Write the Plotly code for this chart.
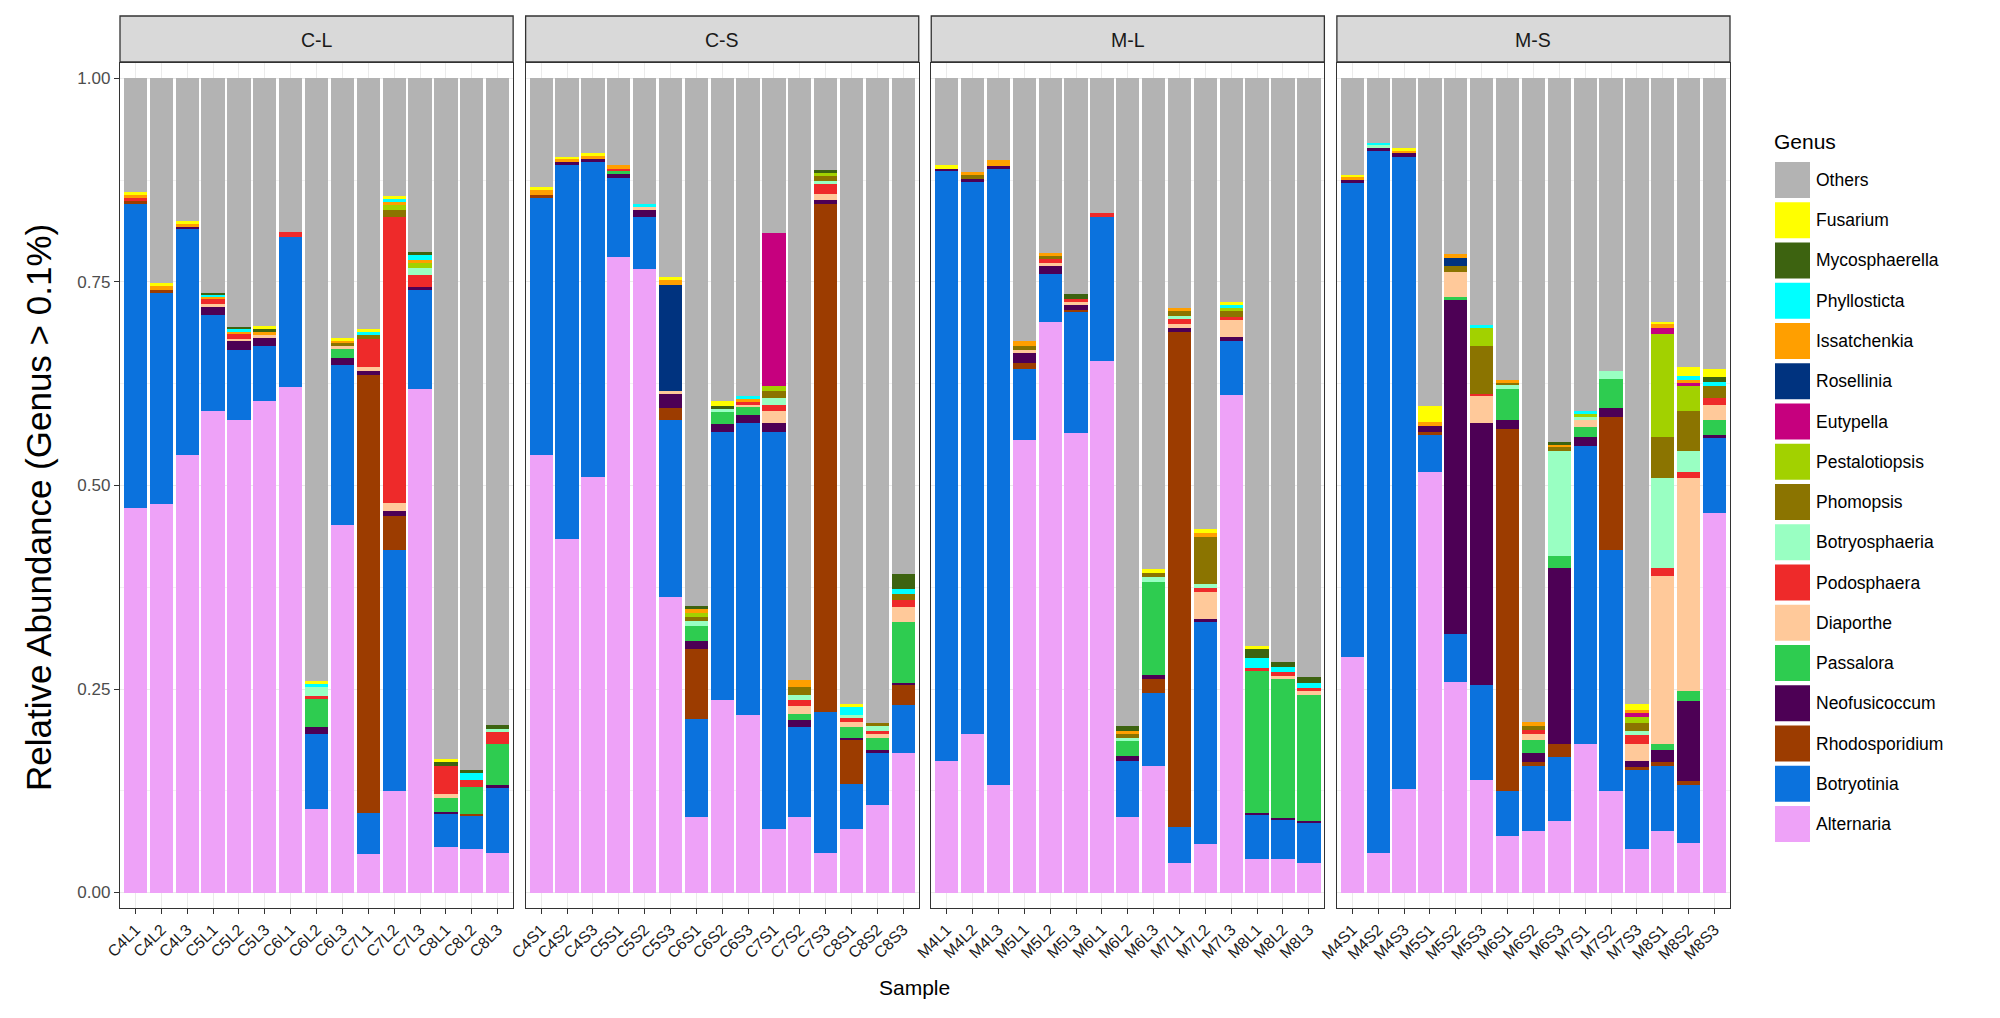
import plotly.graph_objects as go

# ---------------- data ----------------
facets = ["C-L", "C-S", "M-L", "M-S"]
samples_cl = ["C4L1", "C4L2", "C4L3", "C5L1", "C5L2", "C5L3", "C6L1", "C6L2", "C6L3", "C7L1", "C7L2", "C7L3", "C8L1", "C8L2", "C8L3"]
samples_cs = ["C4S1", "C4S2", "C4S3", "C5S1", "C5S2", "C5S3", "C6S1", "C6S2", "C6S3", "C7S1", "C7S2", "C7S3", "C8S1", "C8S2", "C8S3"]
samples_ml = ["M4L1", "M4L2", "M4L3", "M5L1", "M5L2", "M5L3", "M6L1", "M6L2", "M6L3", "M7L1", "M7L2", "M7L3", "M8L1", "M8L2", "M8L3"]
samples_ms = ["M4S1", "M4S2", "M4S3", "M5S1", "M5S2", "M5S3", "M6S1", "M6S2", "M6S3", "M7S1", "M7S2", "M7S3", "M8S1", "M8S2", "M8S3"]

# relative abundance per genus, 60 samples in order C-L, C-S, M-L, M-S
alternaria = [.472, .477, .537, .591, .581, .604, .621, .103, .452, .047, .125, .619, .056, .053, .049,
              .537, .434, .510, .781, .766, .363, .093, .236, .218, .078, .093, .049, .078, .107, .172,
              .162, .195, .132, .556, .701, .564, .653, .093, .155, .036, .060, .611, .041, .041, .036,
              .289, .048, .127, .516, .259, .138, .069, .075, .088, .182, .125, .053, .076, .061, .466]
botryotinia = [.374, .260, .278, .118, .085, .067, .184, .092, .196, .051, .296, .121, .040, .041, .079,
               .316, .460, .388, .097, .064, .218, .120, .330, .359, .488, .110, .173, .055, .065, .058,
               .724, .678, .758, .087, .059, .149, .177, .069, .090, .045, .272, .067, .054, .049, .049,
               .582, .863, .776, .046, .058, .117, .056, .080, .079, .366, .296, .097, .080, .071, .092]
rhodosporidium = [.003, .003, 0, 0, 0, 0, 0, 0, 0, .538, .041, 0, 0, .003, 0,
                  .004, 0, 0, 0, 0, .014, .086, 0, 0, 0, 0, .624, .055, 0, .025,
                  0, 0, 0, .008, 0, .003, 0, 0, .017, .608, 0, 0, 0, 0, 0,
                  0, 0, 0, .004, 0, 0, .445, .005, .016, 0, .163, .004, .004, .005, 0]
neofusicoccum = [0, 0, .003, .010, .011, .010, 0, .008, .009, .005, .007, .004, .003, 0, .004,
                 0, .003, .003, .005, .008, .017, .010, .010, .009, .011, .009, .005, .002, .003, .003,
                 .003, .004, .002, .012, .010, .006, 0, .006, .005, .004, .004, .004, .003, .002, .003,
                 .004, .004, .005, .007, .411, .322, .011, .012, .216, .011, .011, .008, .015, .098, .004]
passalora = [0, 0, 0, 0, 0, 0, 0, .035, .011, 0, 0, 0, .017, .033, .051,
             0, 0, 0, .003, 0, 0, .019, .014, .010, 0, .007, 0, .013, .015, .074,
             0, 0, 0, 0, 0, 0, 0, .018, .115, 0, 0, 0, .174, .170, .155,
             0, 0, 0, 0, .003, 0, .038, .015, .015, .013, .036, 0, .008, .012, .019]
diaporthe = [0, 0, 0, .004, .003, .004, 0, 0, .003, .005, .010, 0, .005, 0, 0,
             0, 0, 0, 0, .004, .004, 0, 0, .003, .014, .010, .007, .006, .005, .019,
             0, 0, 0, .004, .003, .004, 0, 0, 0, .005, .033, .021, 0, .004, .004,
             0, 0, 0, 0, .031, .033, 0, .008, 0, .008, 0, .020, .206, .262, .018]
podosphaera = [.004, 0, 0, .006, .006, 0, .007, .004, 0, .034, .351, .015, .035, .008, .014,
               0, 0, 0, .003, 0, 0, 0, 0, .004, .008, .008, .012, .005, .004, .008,
               0, 0, 0, 0, .005, .003, .005, 0, 0, .006, .005, .004, .004, .005, .004,
               0, 0, 0, 0, 0, .003, 0, .005, 0, 0, 0, .011, .010, .007, .008]
botryosphaeria = [0, 0, 0, 0, 0, 0, 0, .010, 0, 0, 0, .008, 0, 0, .004,
                  0, 0, 0, 0, 0, 0, .006, .004, 0, .008, .006, .004, .004, .005, 0,
                  0, 0, 0, 0, 0, 0, 0, .004, .006, .004, .005, 0, 0, 0, 0,
                  0, .003, 0, 0, 0, 0, .004, 0, .128, .004, .010, .005, .110, .026, 0]
phomopsis = [0, 0, 0, 0, 0, 0, 0, 0, .004, .005, .008, 0, 0, 0, 0,
             0, 0, 0, 0, 0, 0, .005, 0, 0, .009, .010, .006, 0, .004, .008,
             0, .004, 0, .004, .004, 0, 0, .005, .005, .006, .058, .007, 0, 0, 0,
             0, 0, 0, 0, .008, .058, .003, .005, .005, 0, 0, .010, .050, .049, .015]
pestalotiopsis = [0, 0, 0, 0, 0, 0, 0, 0, 0, 0, .006, .006, 0, 0, 0,
                  0, 0, 0, 0, 0, 0, .004, 0, 0, .006, 0, .004, 0, 0, 0,
                  0, 0, 0, 0, 0, 0, 0, 0, 0, 0, 0, .004, 0, 0, 0,
                  0, 0, 0, 0, 0, .022, 0, 0, 0, .004, 0, .008, .127, .031, 0]
eutypella = [0, 0, 0, 0, 0, 0, 0, 0, 0, 0, 0, 0, 0, 0, 0,
             0, 0, 0, 0, 0, 0, 0, 0, 0, .188, 0, 0, 0, 0, 0,
             0, 0, 0, 0, 0, 0, 0, 0, 0, 0, 0, 0, 0, 0, 0,
             0, 0, 0, 0, 0, 0, 0, 0, 0, 0, 0, .005, .008, .004, 0]
rosellinia = [0, 0, 0, 0, 0, 0, 0, 0, 0, 0, 0, 0, 0, 0, 0,
              0, 0, 0, 0, 0, .130, 0, 0, 0, 0, 0, 0, 0, 0, 0,
              0, 0, 0, 0, 0, 0, 0, 0, 0, 0, 0, 0, 0, 0, 0,
              0, 0, 0, 0, .010, 0, 0, 0, 0, 0, 0, 0, 0, 0, 0]
issatchenkia = [.004, .005, .003, .003, .003, .003, 0, 0, .003, 0, .004, .004, 0, 0, 0,
                .006, .004, .004, .005, 0, .006, .005, 0, .003, 0, .008, 0, 0, 0, 0,
                0, .004, .008, .006, .004, 0, 0, .004, 0, .004, .005, 0, 0, 0, 0,
                .004, 0, .004, .005, .004, 0, .004, .005, .003, 0, 0, .003, .004, .003, 0]
phyllosticta = [0, 0, 0, .003, .003, 0, 0, .004, 0, .003, .004, .006, 0, .009, 0,
                0, 0, 0, 0, .004, 0, 0, 0, .004, 0, 0, 0, .010, 0, .006,
                0, 0, 0, 0, 0, 0, 0, 0, 0, 0, 0, .004, .012, .006, .006,
                0, .003, 0, 0, 0, .004, 0, 0, 0, .004, 0, 0, 0, .006, .005]
mycosphaerella = [0, 0, 0, .002, .003, .004, 0, 0, 0, 0, 0, .004, .004, .003, .005,
                  0, 0, 0, 0, 0, 0, .004, .004, 0, 0, 0, .003, 0, 0, .018,
                  0, 0, 0, 0, 0, .006, 0, .005, 0, 0, 0, 0, .011, .006, .008,
                  0, 0, 0, 0, 0, 0, 0, 0, .003, 0, 0, 0, 0, 0, .006]
fusarium = [.003, .004, .004, 0, 0, .004, 0, .004, .003, .004, .004, 0, .004, 0, 0,
            .004, .003, .003, 0, 0, .004, 0, .006, 0, 0, 0, 0, .004, 0, 0,
            .005, 0, 0, 0, 0, 0, 0, 0, .004, 0, .004, .003, .004, 0, 0,
            .003, 0, .002, .020, 0, 0, 0, 0, 0, 0, 0, .007, .003, .010, .010]

genus_names = ["Alternaria", "Botryotinia", "Rhodosporidium", "Neofusicoccum", "Passalora",
               "Diaporthe", "Podosphaera", "Botryosphaeria", "Phomopsis", "Pestalotiopsis",
               "Eutypella", "Rosellinia", "Issatchenkia", "Phyllosticta", "Mycosphaerella",
               "Fusarium", "Others"]
genus_colors = ["#EEA2F8", "#0B72DD", "#9C3C00", "#4D0055", "#2ECC50",
                "#FFC99A", "#EE2A2A", "#99FFC2", "#8B7400", "#A2D100",
                "#C6007E", "#00337F", "#FF9F00", "#00FFFF", "#3D6310",
                "#FFFF00", "#B3B3B3"]

stack = [alternaria, botryotinia, rhodosporidium, neofusicoccum, passalora, diaporthe,
         podosphaera, botryosphaeria, phomopsis, pestalotiopsis, eutypella, rosellinia,
         issatchenkia, phyllosticta, mycosphaerella, fusarium]
others = [round(1 - sum(col), 4) for col in zip(*stack)]
series = stack + [others]
sample_lists = [samples_cl, samples_cs, samples_ml, samples_ms]

# ---------------- geometry (page pixels) ----------------
OFF = 8                      # browser body margin
FIG_W, FIG_H = 1984, 1002    # figure size, placed at (OFF, OFF) in the page
L, R = 120, 1730             # plot area left/right in page pixels
TOP, BOT = 63, 908           # plot area top/bottom in page pixels
GAP = 12.5
pw = (R - L - 3 * GAP) / 4
plot_w = R - L
plot_h = BOT - TOP


def px_x(px):
    return (px - L) / plot_w


def px_y(py):
    return (BOT - py) / plot_h


FONT = "Liberation Sans, Arial, sans-serif"

fig = go.Figure()
for name, color, vals in zip(genus_names, genus_colors, series):
    for fi in range(4):
        suffix = "" if fi == 0 else str(fi + 1)
        fig.add_trace(go.Bar(
            x=sample_lists[fi], y=vals[fi * 15:(fi + 1) * 15],
            name=name, marker=dict(color=color, line=dict(width=0)),
            xaxis="x" + suffix, yaxis="y" + suffix, showlegend=False,
        ))

layout = dict(
    width=FIG_W, height=FIG_H, barmode="stack", bargap=0.1,
    margin=dict(l=L - OFF, r=OFF + FIG_W - R, t=TOP - OFF, b=OFF + FIG_H - BOT, pad=0),
    paper_bgcolor="white", plot_bgcolor="white",
    font=dict(family=FONT),
    showlegend=False,
)
for fi in range(4):
    suffix = "" if fi == 0 else str(fi + 1)
    x0 = fi * (pw + GAP) / plot_w
    x1 = (fi * (pw + GAP) + pw) / plot_w
    layout["xaxis" + suffix] = dict(
        domain=[x0, x1], anchor="y" + suffix, type="category",
        categoryorder="array", categoryarray=sample_lists[fi],
        range=[-0.6, 14.6], showline=True, mirror=True, linecolor="#333333", linewidth=1.3,
        ticks="outside", ticklen=5, tickwidth=1.2, tickcolor="#333333", tickangle=-45,
        tickfont=dict(size=16, color="#1A1A1A", family=FONT),
        showgrid=True, gridcolor="#EBEBEB", gridwidth=1.2, zeroline=False,
    )
    layout["yaxis" + suffix] = dict(
        domain=[0, 1], anchor="x" + suffix, range=[-0.019, 1.019],
        tickvals=[0, 0.25, 0.5, 0.75, 1.0], ticktext=["0.00", "0.25", "0.50", "0.75", "1.00"],
        showticklabels=(fi == 0), ticks="outside" if fi == 0 else "",
        ticklen=5, tickwidth=1.2, tickcolor="#333333",
        tickfont=dict(size=17, color="#4D4D4D", family=FONT),
        showline=True, mirror=True, linecolor="#333333", linewidth=1.3,
        showgrid=True, gridcolor="#EBEBEB", gridwidth=1.2, zeroline=False,
        minor=dict(dtick=0.125, tick0=0.125, showgrid=True, gridcolor="#F2F2F2", gridwidth=0.6),
    )
fig.update_layout(**layout)

shapes = []
annotations = []
# facet strips
for fi, lab in enumerate(facets):
    suffix = "" if fi == 0 else str(fi + 1)
    shapes.append(dict(type="rect", xref="x" + suffix + " domain", yref="paper",
                       x0=0, x1=1, y0=px_y(TOP - 1), y1=px_y(16),
                       fillcolor="#D9D9D9", line=dict(color="#333333", width=1.3), layer="above"))
    annotations.append(dict(text=lab, xref="x" + suffix + " domain", yref="paper",
                            x=0.5, y=px_y((TOP + 16) / 2), showarrow=False,
                            font=dict(size=19.5, color="#1A1A1A", family=FONT),
                            xanchor="center", yanchor="middle"))

# axis titles
annotations.append(dict(text="Relative Abundance (Genus > 0.1%)", xref="paper", yref="paper",
                        x=px_x(38), y=px_y(508), textangle=-90, showarrow=False,
                        font=dict(size=35, color="black", family=FONT),
                        xanchor="center", yanchor="middle"))
annotations.append(dict(text="Sample", xref="paper", yref="paper",
                        x=px_x(914), y=px_y(987), showarrow=False,
                        font=dict(size=21, color="black", family=FONT),
                        xanchor="center", yanchor="middle"))

# legend (drawn manually to mimic ggplot key boxes)
annotations.append(dict(text="Genus", xref="paper", yref="paper",
                        x=px_x(1772), y=px_y(141), showarrow=False,
                        font=dict(size=21, color="black", family=FONT),
                        xanchor="left", yanchor="middle"))
legend_order = list(zip(genus_names, genus_colors))[::-1]
for k, (name, color) in enumerate(legend_order):
    cy = 180 + 40.25 * k
    shapes.append(dict(type="rect", xref="paper", yref="paper",
                       x0=px_x(1775), x1=px_x(1810), y0=px_y(cy + 18), y1=px_y(cy - 18),
                       fillcolor=color, line=dict(width=0)))
    annotations.append(dict(text=name, xref="paper", yref="paper",
                            x=px_x(1814), y=px_y(cy), showarrow=False,
                            font=dict(size=17.5, color="black", family=FONT),
                            xanchor="left", yanchor="middle"))

fig.update_layout(shapes=shapes, annotations=annotations)
fig.write_html("out.html")
